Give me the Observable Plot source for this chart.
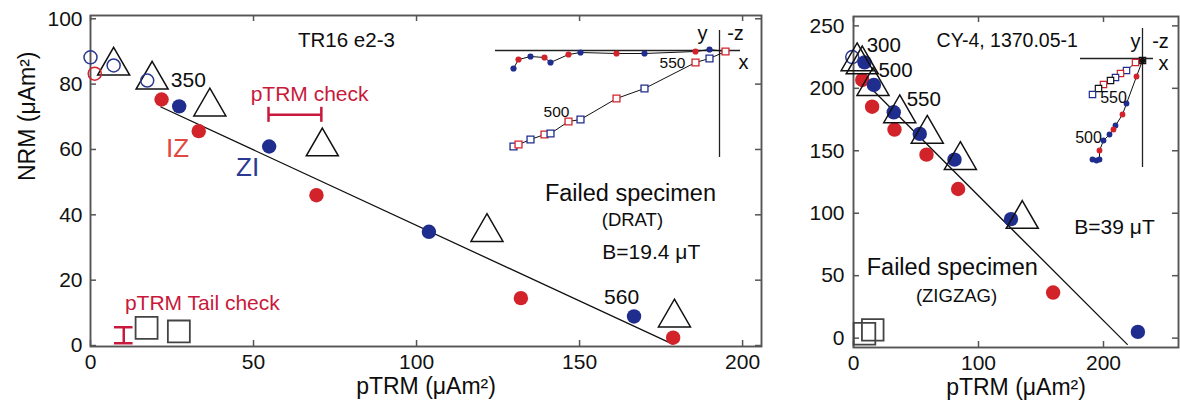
<!DOCTYPE html>
<html><head><meta charset="utf-8">
<script src="https://cdn.jsdelivr.net/npm/d3@7"></script>
<script src="https://cdn.jsdelivr.net/npm/@observablehq/plot@0.6"></script>
<style>
body{margin:0;background:#fff;}
#wrap{position:relative;width:1180px;height:409px;overflow:hidden;background:#fff;}
#wrap svg{position:absolute;max-width:none;}
</style></head><body><div id="wrap"></div>
<script>
const FONT = '"Liberation Sans", Arial, Helvetica, sans-serif';
const RED = "#d2232b", BLUE = "#1f2d8e", INK = "#0d0d0d", FRAME = "#555555";
const CHECK_RED = "#c8193c", IZ_RED = "#e0473e", ZI_BLUE = "#2b3990";

// ---------- Panel A : TR16 e2-3 ----------
const trXTicks = [0, 50, 100, 150, 200];
const trYTicks = [0, 20, 40, 60, 80, 100];
const trZIx = [27.2, 54.8, 103.8, 166.7];
const trZIy = [73.2, 60.9, 34.8, 8.9];
const trIZx = [21.8, 33.2, 69.3, 132.0, 178.7];
const trIZy = [75.3, 65.6, 46.0, 14.5, 2.4];
const trOpenZIx = [0.0, 7.1, 17.4];
const trOpenZIy = [88.2, 85.7, 81.1];
const trOpenIZx = [1.3];
const trOpenIZy = [83.2];
const trCheckX = [7.1, 18.9, 36.6, 71.1, 121.6, 179.1];
const trCheckY = [85.6, 81.3, 73.1, 60.9, 34.7, 8.5];
const trTailX = [17.2, 27.1];
const trTailY = [5.4, 4.3];
const trFitX = [21.6, 178.4];
const trFitY = [73.0, 0.5];
const trCheckBarX = [54.6, 70.8];
const trCheckBarY = 70.6;
const trTailBarX = 10.2;
const trTailBarY = [0.7, 5.6];

// Panel A inset (Zijderveld), arbitrary units
const trZijX = [-206, -201, -189, -175, -169, -151, -139, -103, -75, -24, -10, 6];
const trZijH = [-18, -9, -6, -7, -12, -4, -2, -3, -3, -1, 1, -1];
const trZijV = [-96, -94, -89, -84, -83, -71, -69, -48, -38, -12, -8, -1];
const trZijStep = ["ZI","IZ","ZI","IZ","ZI","IZ","ZI","IZ","ZI","IZ","ZI","IZ"];

// ---------- Panel B : CY-4, 1370.05-1 ----------
const cyXTicks = [0, 100, 200];
const cyYTicks = [0, 50, 100, 150, 200, 250];
const cyZIx = [8.8, 16.3, 32.2, 53.0, 80.8, 126.0, 227.5];
const cyZIy = [220.8, 202.7, 180.8, 163.5, 142.9, 95.3, 5.0];
const cyIZx = [7.0, 14.9, 32.8, 58.4, 83.7, 159.7];
const cyIZy = [206.7, 185.3, 167.0, 146.9, 119.4, 36.5];
const cyOpenZIx = [-1.0];
const cyOpenZIy = [225.0];
const cyCheckX = [2.9, 7.0, 15.6, 37.0, 59.0, 85.5, 135.0];
const cyCheckY = [221.5, 219.0, 201.7, 179.9, 163.5, 142.5, 95.3];
const cyTailX = [8.8, 15.4];
const cyTailY = [3.5, 6.6];
const cyFitX = [6, 219];
const cyFitY = [208, -5];

// Panel B inset (Zijderveld), arbitrary units
const cySqX = [0, -7, -16, -22, -27, -32, -39, -44, -50];
const cySqY = [-2, -4, -12, -15, -19, -22, -26, -30, -36];
const cySqStep = ["K","IZ","ZI","IZ","ZI","K","IZ","K","ZI"];
const cyDotX = [0, -6, -16, -20, -27, -29, -33, -39, -43, -43, -50, -46];
const cyDotY = [-2, -18, -45, -56, -67, -71, -76, -82, -92, -101, -101, -102];
const cyDotStep = ["K","IZ","ZI","IZ","ZI","IZ","ZI","ZI","IZ","ZI","ZI","ZI"];

const pts = (xs, ys, extra) => xs.map((x, i) => ({x, y: ys[i], s: extra ? extra[i] : null}));
const stepColor = s => s === "IZ" ? RED : s === "ZI" ? BLUE : "#111";
const lbl = (x, y, text) => [{x, y, text}];

function frameTicks(xt, yt, fw, fh) {
  const o = {stroke: FRAME, strokeWidth: 1.5};
  return [
    Plot.ruleX(xt, {x: d => d, insetTop: fh - 6, ...o}),
    Plot.ruleX(xt, {x: d => d, insetBottom: fh - 6, ...o}),
    Plot.ruleY(yt, {y: d => d, insetRight: fw - 6, ...o}),
    Plot.ruleY(yt, {y: d => d, insetLeft: fw - 6, ...o})
  ];
}
const baseStyle = {fontFamily: FONT, fontSize: "21px", color: "#111", background: "transparent", overflow: "visible"};
const wrap = document.getElementById("wrap");
function place(svg, left, top) { svg.style.left = left + "px"; svg.style.top = top + "px"; wrap.appendChild(svg); }

// ----- Left main plot -----
const A = Plot.plot({
  width: 770, height: 409,
  marginLeft: 90, marginRight: 9, marginTop: 15, marginBottom: 63,
  style: baseStyle,
  x: {domain: [0, 205.8], ticks: trXTicks, tickSize: 0, tickPadding: 8, label: null},
  y: {domain: [-0.3, 101], ticks: trYTicks, tickSize: 0, tickPadding: 8, label: null},
  marks: [
    Plot.frame({stroke: FRAME, strokeWidth: 1.9}),
    ...frameTicks(trXTicks, trYTicks, 671, 331),
    Plot.line(pts(trFitX, trFitY), {x: "x", y: "y", stroke: "#111", strokeWidth: 1.3}),
    Plot.dot(pts(trCheckX, trCheckY), {x: "x", y: "y", symbol: "triangle", r: 11.9, stroke: "#111", strokeWidth: 1.5, fill: "none"}),
    Plot.dot(pts(trTailX, trTailY), {x: "x", y: "y", symbol: "square", r: 12.4, stroke: "#444", strokeWidth: 1.8, fill: "none"}),
    Plot.dot(pts(trIZx, trIZy), {x: "x", y: "y", r: 7.2, fill: RED}),
    Plot.dot(pts(trZIx, trZIy), {x: "x", y: "y", r: 7.2, fill: BLUE}),
    Plot.dot(pts(trOpenZIx, trOpenZIy), {x: "x", y: "y", r: 6.5, stroke: ZI_BLUE, strokeWidth: 1.5, fill: "none"}),
    Plot.dot(pts(trOpenIZx, trOpenIZy), {x: "x", y: "y", r: 6.5, stroke: RED, strokeWidth: 1.5, fill: "none"}),
    // pTRM check bar
    Plot.ruleY([trCheckBarY], {y: d => d, x1: trCheckBarX[0], x2: trCheckBarX[1], stroke: CHECK_RED, strokeWidth: 2.5}),
    Plot.ruleX(trCheckBarX, {x: d => d, y1: trCheckBarY - 2.3, y2: trCheckBarY + 2.3, stroke: CHECK_RED, strokeWidth: 2.5}),
    // pTRM tail check bar
    Plot.ruleX([trTailBarX], {x: d => d, y1: trTailBarY[0], y2: trTailBarY[1], stroke: CHECK_RED, strokeWidth: 2.5}),
    Plot.ruleY(trTailBarY, {y: d => d, x1: trTailBarX - 2.85, x2: trTailBarX + 2.85, stroke: CHECK_RED, strokeWidth: 2.5}),
    // texts
    Plot.text(lbl(78.5, 93.4, "TR16 e2-3"), {x: "x", y: "y", text: "text", fontSize: 20.5, fill: INK}),
    Plot.text(lbl(30.0, 81.1, "350"), {x: "x", y: "y", text: "text", fontSize: 21, fill: INK}),
    Plot.text(lbl(67.2, 76.8, "pTRM check"), {x: "x", y: "y", text: "text", fontSize: 21, fill: CHECK_RED}),
    Plot.text(lbl(26.7, 60.3, "IZ"), {x: "x", y: "y", text: "text", fontSize: 26, fill: IZ_RED}),
    Plot.text(lbl(48.2, 54.5, "ZI"), {x: "x", y: "y", text: "text", fontSize: 26, fill: ZI_BLUE}),
    Plot.text(lbl(34.3, 12.8, "pTRM Tail check"), {x: "x", y: "y", text: "text", fontSize: 21, fill: CHECK_RED}),
    Plot.text(lbl(165.6, 46.4, "Failed specimen"), {x: "x", y: "y", text: "text", fontSize: 23.5, fill: INK}),
    Plot.text(lbl(166.2, 38.3, "(DRAT)"), {x: "x", y: "y", text: "text", fontSize: 18.5, fill: INK}),
    Plot.text(lbl(172.0, 28.6, "B=19.4 μT"), {x: "x", y: "y", text: "text", fontSize: 21, fill: INK}),
    Plot.text(lbl(162.9, 14.8, "560"), {x: "x", y: "y", text: "text", fontSize: 21, fill: INK}),
    Plot.text(["pTRM (μAm²)"], {text: d => d, frameAnchor: "bottom", dy: 47, fontSize: 23, fill: INK}),
    Plot.text(["NRM (μAm²)"], {text: d => d, frameAnchor: "left", rotate: -90, dx: -63, fontSize: 23, fill: INK})
  ]
});
place(A, 0, 0);

// ----- Right main plot -----
const B = Plot.plot({
  width: 410, height: 409,
  marginLeft: 83, marginRight: 2, marginTop: 16, marginBottom: 62,
  style: baseStyle,
  x: {domain: [0, 260], ticks: cyXTicks, tickSize: 0, tickPadding: 8, label: null},
  y: {domain: [-7.5, 257.5], ticks: cyYTicks, tickSize: 0, tickPadding: 9, label: null},
  marks: [
    Plot.frame({stroke: FRAME, strokeWidth: 1.9}),
    ...frameTicks(cyXTicks, cyYTicks, 325, 331),
    Plot.line(pts(cyFitX, cyFitY), {x: "x", y: "y", stroke: "#111", strokeWidth: 1.3}),
    Plot.dot(pts(cyTailX, cyTailY), {x: "x", y: "y", symbol: "square", r: 12.2, stroke: "#444", strokeWidth: 1.8, fill: "none"}),
    Plot.dot(pts(cyIZx, cyIZy), {x: "x", y: "y", r: 7.2, fill: RED}),
    Plot.dot(pts(cyZIx, cyZIy), {x: "x", y: "y", r: 7.2, fill: BLUE}),
    Plot.dot(pts(cyOpenZIx, cyOpenZIy), {x: "x", y: "y", r: 6.5, stroke: ZI_BLUE, strokeWidth: 1.5, fill: "none"}),
    Plot.dot(pts(cyCheckX, cyCheckY), {x: "x", y: "y", symbol: "triangle", r: 11.9, stroke: "#111", strokeWidth: 1.5, fill: "none"}),
    Plot.text(lbl(24.2, 234.2, "300"), {x: "x", y: "y", text: "text", fontSize: 20.5, fill: INK}),
    Plot.text(lbl(33.6, 214.2, "500"), {x: "x", y: "y", text: "text", fontSize: 20.5, fill: INK}),
    Plot.text(lbl(56.2, 191.5, "550"), {x: "x", y: "y", text: "text", fontSize: 20.5, fill: INK}),
    Plot.text(lbl(123.0, 238.2, "CY-4, 1370.05-1"), {x: "x", y: "y", text: "text", fontSize: 19.5, fill: INK}),
    Plot.text(lbl(208.8, 88.6, "B=39 μT"), {x: "x", y: "y", text: "text", fontSize: 21, fill: INK}),
    Plot.text(lbl(79.0, 56.6, "Failed specimen"), {x: "x", y: "y", text: "text", fontSize: 23.5, fill: INK}),
    Plot.text(lbl(82.4, 33.9, "(ZIGZAG)"), {x: "x", y: "y", text: "text", fontSize: 18.5, fill: INK}),
    Plot.text(["pTRM (μAm²)"], {text: d => d, frameAnchor: "bottom", dy: 47, fontSize: 23, fill: INK})
  ]
});
place(B, 770, 0);

// ----- Left inset -----
const trZ = trZijX.map((x, i) => ({x, h: trZijH[i], v: trZijV[i], s: trZijStep[i]}));
const IA = Plot.plot({
  width: 280, height: 145, margin: 0,
  style: {...baseStyle},
  x: {domain: [-239, 41], axis: null},
  y: {domain: [-115, 30], axis: null},
  marks: [
    Plot.ruleY([0], {y: d => d, x1: -224, x2: 21, stroke: "#222", strokeWidth: 1.3}),
    Plot.ruleX([0], {x: d => d, y1: -107, y2: 20, stroke: "#222", strokeWidth: 1.3}),
    Plot.line(trZ, {x: "x", y: "h", stroke: "#111", strokeWidth: 1}),
    Plot.line(trZ, {x: "x", y: "v", stroke: "#111", strokeWidth: 1}),
    Plot.dot(trZ, {x: "x", y: "h", r: 3.1, fill: d => stepColor(d.s)}),
    Plot.dot(trZ, {x: "x", y: "v", symbol: "square", r: 3.9, fill: "white", stroke: d => stepColor(d.s), strokeWidth: 1.3}),
    Plot.text(lbl(-47, -13, "550"), {x: "x", y: "y", text: "text", fontSize: 15.5, fill: INK}),
    Plot.text(lbl(-163, -62, "500"), {x: "x", y: "y", text: "text", fontSize: 15.5, fill: INK}),
    Plot.text(lbl(-17, 17, "y"), {x: "x", y: "y", text: "text", fontSize: 20, fill: INK}),
    Plot.text(lbl(16, 17, "-z"), {x: "x", y: "y", text: "text", fontSize: 20, fill: INK}),
    Plot.text(lbl(24, -12, "x"), {x: "x", y: "y", text: "text", fontSize: 20, fill: INK})
  ]
});
place(IA, 480, 20);

// ----- Right inset -----
const cySq = pts(cySqX, cySqY, cySqStep);
const cyDot = pts(cyDotX, cyDotY, cyDotStep);
const IB = Plot.plot({
  width: 108, height: 150, margin: 0,
  style: {...baseStyle},
  x: {domain: [-72, 36], axis: null},
  y: {domain: [-117, 33], axis: null},
  marks: [
    Plot.ruleY([0], {y: d => d, x1: -62, x2: 11, stroke: "#222", strokeWidth: 1.3}),
    Plot.ruleX([0], {x: d => d, y1: -109, y2: 30, stroke: "#222", strokeWidth: 1.3}),
    Plot.line(cySq, {x: "x", y: "y", stroke: "#111", strokeWidth: 1}),
    Plot.line(cyDot, {x: "x", y: "y", stroke: "#111", strokeWidth: 1}),
    Plot.dot(cySq, {x: "x", y: "y", symbol: "square", r: 3.6, fill: "white", stroke: d => stepColor(d.s), strokeWidth: 1.2}),
    Plot.dot(cyDot, {x: "x", y: "y", r: 2.9, fill: d => stepColor(d.s)}),
    Plot.text(lbl(-29, -39, "550"), {x: "x", y: "y", text: "text", fontSize: 16, fill: INK}),
    Plot.text(lbl(-54, -79, "500"), {x: "x", y: "y", text: "text", fontSize: 16, fill: INK}),
    Plot.text(lbl(-7, 17, "y"), {x: "x", y: "y", text: "text", fontSize: 20, fill: INK}),
    Plot.text(lbl(18, 17, "-z"), {x: "x", y: "y", text: "text", fontSize: 20, fill: INK}),
    Plot.text(lbl(21, -5, "x"), {x: "x", y: "y", text: "text", fontSize: 20, fill: INK})
  ]
});
place(IB, 1070, 25);
</script></body></html>
